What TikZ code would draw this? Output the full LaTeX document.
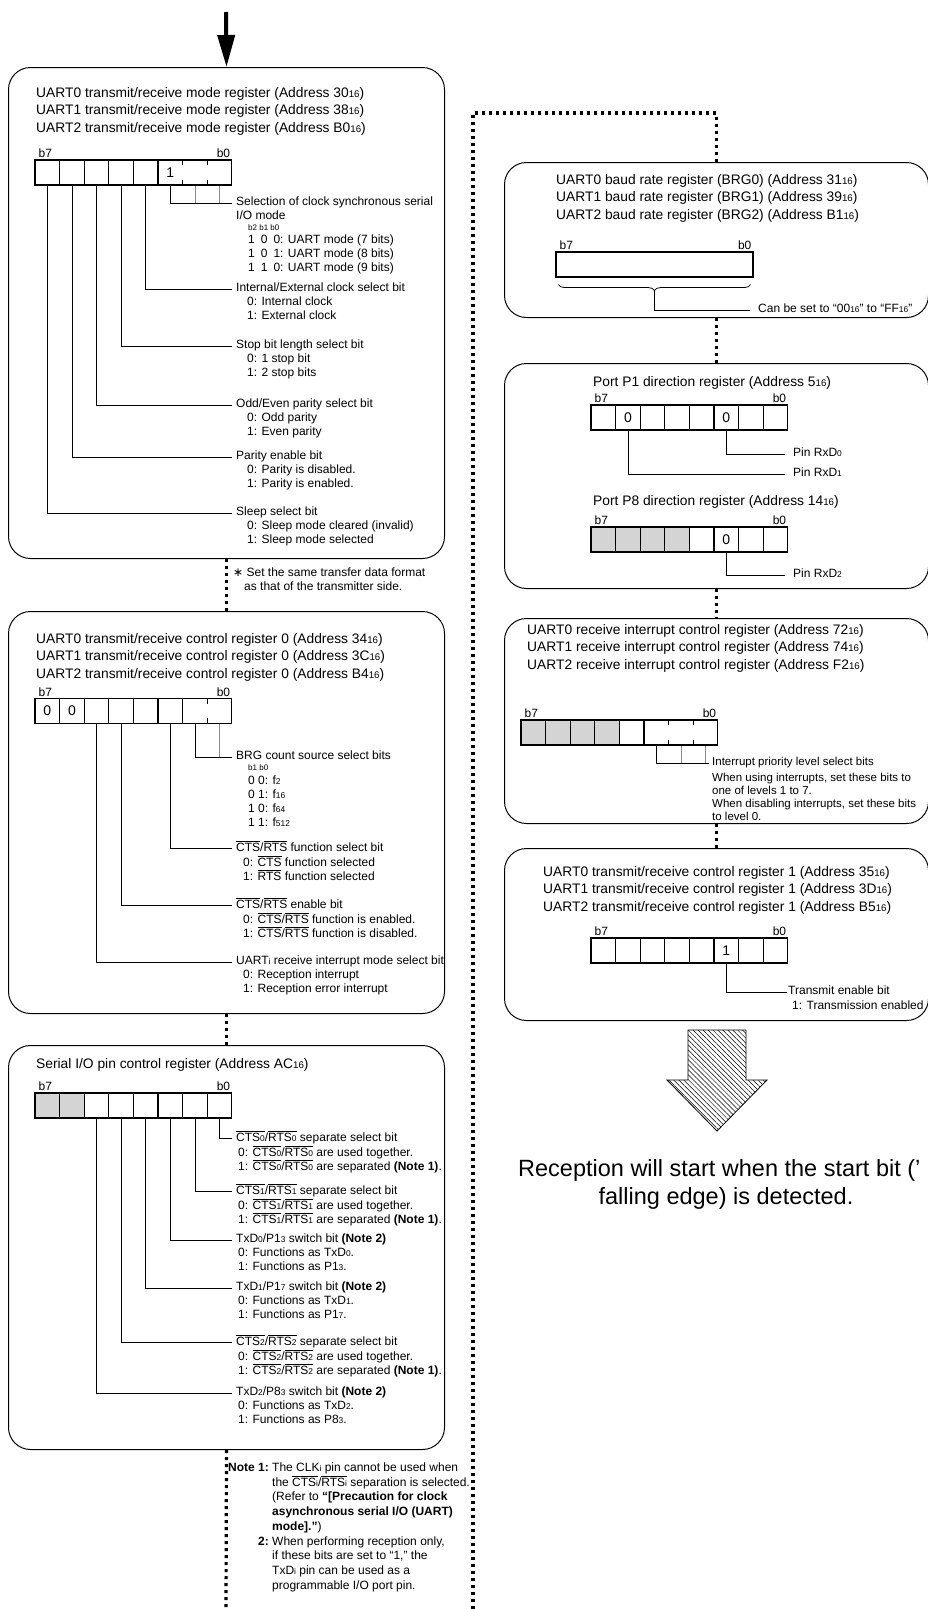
\documentclass[tikz,border=0pt]{standalone}
\usepackage{fontspec}
\setmainfont{Liberation Sans}
\newfontfamily\symfont{DejaVu Sans}
\usepackage{graphicx}
\usetikzlibrary{positioning,arrows.meta,decorations.pathreplacing,patterns.meta}

\colorlet{shade}{black!17}
\newcommand\ix[1]{\scalebox{0.7}{#1}}
\newcommand\ovl[1]{$\overline{\mbox{#1}}$}
\newcommand\ttlfont{\fontsize{13.8}{17.5}\selectfont}
\newcommand\lblfont{\fontsize{12}{14}\selectfont}
\newcommand\tinyfont{\fontsize{8}{9}\selectfont}

% one 8-bit register: name, left edge, centre y, grey cells, cell texts b7..b0
\newcommand\bitrow[5]{%
  \foreach \val [count=\idx] in {#5}{%
    \pgfmathtruncatemacro\bitno{8-\idx}%
    \ifnum\idx>#4\relax
      \node[cell] (#1b\bitno) at ({#2+(\idx-0.5)*24.6},#3) {\val};%
    \else
      \node[cell, fill=shade] (#1b\bitno) at ({#2+(\idx-0.5)*24.6},#3) {\val};%
    \fi
  }
  \node[bitno, anchor=base west] (#1hi) at ([xshift=4pt,yshift=1.5pt]#1b7.north west) {b7};
  \node[bitno, anchor=base east] (#1lo) at ([xshift=-2pt,yshift=1.5pt]#1b0.north east) {b0};
}
% broken divider inside a bit field
\newcommand\cellgap[1]{\draw[white, line width=2pt] ([yshift=-6pt]#1.north west) -- ([yshift=6pt]#1.south west);}

\begin{document}
\begin{tikzpicture}[x=1pt, y=-1pt,
    panel/.style={draw, line width=1pt, rounded corners=22pt, anchor=north west, inner sep=0pt},
    cell/.style={draw, line width=1.1pt, minimum width=24.6pt, minimum height=25pt, inner sep=0pt, font=\fontsize{14}{14}\selectfont},
    bitno/.style={inner sep=0pt, font=\lblfont},
    ttl/.style={anchor=west, inner sep=0pt, align=left, font=\ttlfont},
    lbl/.style={anchor=west, inner xsep=4pt, inner ysep=0pt, font=\lblfont, execute at begin node=\strut},
    opt/.style={inner sep=0pt, align=left, font=\lblfont, execute at begin node=\strut},
    small/.style={font=\fontsize{11.5}{13}\selectfont},
    big/.style={inner sep=0pt, font=\fontsize{23.5}{28}\selectfont},
    lead/.style={line width=0.8pt},
    leadg/.style={line width=0.8pt, black!45},
    flow/.style={line width=3.2pt, dash pattern=on 3pt off 4pt},
    feed/.style={line width=4pt, -{Triangle[length=32pt, width=17pt]}}]
  \useasboundingbox (0,0) rectangle (928,1609);
  \clip (0,0) rectangle (928,1609);

  % panels
  \node[panel, minimum width=436pt, minimum height=491pt] (mode) at (8,67) {};
  \node[panel, minimum width=436pt, minimum height=402pt] (ctl0) at (8,611) {};
  \node[panel, minimum width=436pt, minimum height=404pt] (sio) at (8,1045) {};
  \node[panel, minimum width=424pt, minimum height=155pt] (baud) at (504,162) {};
  \node[panel, minimum width=424pt, minimum height=225pt] (port) at (504,363) {};
  \node[panel, minimum width=424pt, minimum height=205pt] (ric) at (504,618) {};
  \node[panel, minimum width=424pt, minimum height=172pt] (ctl1) at (504,848) {};

  % flow
  \coordinate (entry) at (226,12);
  \draw[feed] (entry) -- (mode.north);
  \draw[flow] (mode.south) -- (ctl0.north);
  \draw[flow] (ctl0.south) -- (sio.north);
  \coordinate (lend) at (226,1609);
  \draw[flow] (sio.south) -- (lend);
  \coordinate (rend) at (473,1609);
  \coordinate (rturn) at (473,113);
  \draw[flow] (rend) -- (rturn) -| (baud.north);
  \draw[flow] (baud.south) -- (port.north);
  \draw[flow] (port.south) -- (ric.north);
  \draw[flow] (ric.south) -- (ctl1.north);

  % transmit/receive mode register
  \node[ttl] (modettl) at (36,111) {UART0 transmit/receive mode register (Address 30\ix{16})\\UART1 transmit/receive mode register (Address 38\ix{16})\\UART2 transmit/receive mode register (Address B0\ix{16})};
  \bitrow{m}{35}{172.5}{0}{{},{},{},{},{},1,{},{}}
  \cellgap{mb1}\cellgap{mb0}
  \node[lbl] (msel) at (232,203) {Selection of clock synchronous serial};
  \draw[lead] (mb2.south) |- (msel.west);
  \draw[leadg] (mb1.south) -- (mb1.south |- msel.west);
  \draw[leadg] (mb0.south) -- (mb0.south |- msel.west);
  \node[opt, below right=0pt and 4pt of msel.south west] (mselo) {I/O mode\\[-3pt]\hspace*{12pt}{\tinyfont b2 b1 b0}\\[-1pt]\hspace*{12pt}1\hspace{6pt}0\hspace{6pt}0: UART mode (7 bits)\\\hspace*{12pt}1\hspace{6pt}0\hspace{6pt}1: UART mode (8 bits)\\\hspace*{12pt}1\hspace{6pt}1\hspace{6pt}0: UART mode (9 bits)};
  \node[lbl] (mint) at (232,289) {Internal/External clock select bit};
  \draw[lead] (mb3.south) |- (mint.west);
  \node[opt, below right=0pt and 15pt of mint.south west] (minto) {0: Internal clock\\1: External clock};
  \node[lbl] (mstop) at (232,346) {Stop bit length select bit};
  \draw[lead] (mb4.south) |- (mstop.west);
  \node[opt, below right=0pt and 15pt of mstop.south west] (mstopo) {0: 1 stop bit\\1: 2 stop bits};
  \node[lbl] (mpar) at (232,405) {Odd/Even parity select bit};
  \draw[lead] (mb5.south) |- (mpar.west);
  \node[opt, below right=0pt and 15pt of mpar.south west] (mparo) {0: Odd parity\\1: Even parity};
  \node[lbl] (mpen) at (232,457) {Parity enable bit};
  \draw[lead] (mb6.south) |- (mpen.west);
  \node[opt, below right=0pt and 15pt of mpen.south west] (mpeno) {0: Parity is disabled.\\1: Parity is enabled.};
  \node[lbl] (mslp) at (232,513) {Sleep select bit};
  \draw[lead] (mb7.south) |- (mslp.west);
  \node[opt, below right=0pt and 15pt of mslp.south west] (mslpo) {0: Sleep mode cleared (invalid)\\1: Sleep mode selected};
  \node[opt, anchor=west] (fmtnote) at (233,581) {{\symfont ∗} Set the same transfer data format\\\hspace*{11pt}as that of the transmitter side.};

  % transmit/receive control register 0
  \node[ttl] (ctl0ttl) at (36,657) {UART0 transmit/receive control register 0 (Address 34\ix{16})\\UART1 transmit/receive control register 0 (Address 3C\ix{16})\\UART2 transmit/receive control register 0 (Address B4\ix{16})};
  \bitrow{n}{35}{711}{0}{0,0,{},{},{},{},{},{}}
  \cellgap{nb0}
  \node[lbl] (nbrg) at (232,757) {BRG count source select bits};
  \draw[lead] (nb1.south) |- (nbrg.west);
  \draw[leadg] (nb0.south) -- (nb0.south |- nbrg.west);
  \node[opt, below right=0pt and 16pt of nbrg.south west] (nbrgo) {{\tinyfont b1 b0}\\0 0: f\ix{2}\\0 1: f\ix{16}\\1 0: f\ix{64}\\1 1: f\ix{512}};
  \node[lbl] (ncts) at (232,848) {\ovl{CTS}/\ovl{RTS} function select bit};
  \draw[lead] (nb2.south) |- (ncts.west);
  \node[opt, below right=0pt and 11pt of ncts.south west] (nctso) {0: \ovl{CTS} function selected\\1: \ovl{RTS} function selected};
  \node[lbl] (nen) at (232,905) {\ovl{CTS}/\ovl{RTS} enable bit};
  \draw[lead] (nb4.south) |- (nen.west);
  \node[opt, below right=0pt and 11pt of nen.south west] (neno) {0: \ovl{CTS}/\ovl{RTS} function is enabled.\\1: \ovl{CTS}/\ovl{RTS} function is disabled.};
  \node[lbl] (nrx) at (232,962) {UART\ix{i} receive interrupt mode select bit};
  \draw[lead] (nb5.south) |- (nrx.west);
  \node[opt, below right=0pt and 11pt of nrx.south west] (nrxo) {0: Reception interrupt\\1: Reception error interrupt};

  % serial I/O pin control register
  \node[ttl] (siottl) at (36,1065) {Serial I/O pin control register (Address AC\ix{16})};
  \bitrow{s}{35}{1105.5}{2}{{},{},{},{},{},{},{},{}}
  \node[lbl] (s0) at (232,1138) {\ovl{CTS\ix{0}}/\ovl{RTS\ix{0}} separate select bit};
  \draw[lead] (sb0.south) |- (s0.west);
  \node[opt, below right=0pt and 6pt of s0.south west] (s0o) {0: \ovl{CTS\ix{0}}/\ovl{RTS\ix{0}} are used together.\\1: \ovl{CTS\ix{0}}/\ovl{RTS\ix{0}} are separated \textbf{(Note 1)}.};
  \node[lbl] (s1) at (232,1191) {\ovl{CTS\ix{1}}/\ovl{RTS\ix{1}} separate select bit};
  \draw[lead] (sb1.south) |- (s1.west);
  \node[opt, below right=0pt and 6pt of s1.south west] (s1o) {0: \ovl{CTS\ix{1}}/\ovl{RTS\ix{1}} are used together.\\1: \ovl{CTS\ix{1}}/\ovl{RTS\ix{1}} are separated \textbf{(Note 1)}.};
  \node[lbl] (s2) at (232,1240) {TxD\ix{0}/P1\ix{3} switch bit \textbf{(Note 2)}};
  \draw[lead] (sb2.south) |- (s2.west);
  \node[opt, below right=0pt and 6pt of s2.south west] (s2o) {0: Functions as TxD\ix{0}.\\1: Functions as P1\ix{3}.};
  \node[lbl] (s3) at (232,1288) {TxD\ix{1}/P1\ix{7} switch bit \textbf{(Note 2)}};
  \draw[lead] (sb3.south) |- (s3.west);
  \node[opt, below right=0pt and 6pt of s3.south west] (s3o) {0: Functions as TxD\ix{1}.\\1: Functions as P1\ix{7}.};
  \node[lbl] (s4) at (232,1342) {\ovl{CTS\ix{2}}/\ovl{RTS\ix{2}} separate select bit};
  \draw[lead] (sb4.south) |- (s4.west);
  \node[opt, below right=0pt and 6pt of s4.south west] (s4o) {0: \ovl{CTS\ix{2}}/\ovl{RTS\ix{2}} are used together.\\1: \ovl{CTS\ix{2}}/\ovl{RTS\ix{2}} are separated \textbf{(Note 1)}.};
  \node[lbl] (s5) at (232,1393) {TxD\ix{2}/P8\ix{3} switch bit \textbf{(Note 2)}};
  \draw[lead] (sb5.south) |- (s5.west);
  \node[opt, below right=0pt and 6pt of s5.south west] (s5o) {0: Functions as TxD\ix{2}.\\1: Functions as P8\ix{3}.};
  \node[anchor=north west, inner sep=0pt, font=\fontsize{12}{14.7}\selectfont] (notes) at (228,1461) {%
    \begin{tabular}{@{}r@{\ }l@{}}
    \textbf{Note 1:} & The CLK\ix{i} pin cannot be used when\\
     & the \ovl{CTS\ix{i}}/\ovl{RTS\ix{i}} separation is selected.\\
     & (Refer to \textbf{“[Precaution for clock}\\
     & \textbf{asynchronous serial I/O (UART)}\\
     & \textbf{mode].”})\\
    \textbf{2:} & When performing reception only,\\
     & if these bits are set to “1,” the\\
     & TxD\ix{i} pin can be used as a\\
     & programmable I/O port pin.
    \end{tabular}};

  % baud rate register
  \node[ttl] (baudttl) at (556,198) {UART0 baud rate register (BRG0) (Address 31\ix{16})\\UART1 baud rate register (BRG1) (Address 39\ix{16})\\UART2 baud rate register (BRG2) (Address B1\ix{16})};
  \node[cell, minimum width=197pt] (brg) at (654.5,264.5) {};
  \node[bitno, anchor=base west] (brghi) at ([xshift=4pt,yshift=1.5pt]brg.north west) {b7};
  \node[bitno, anchor=base east] (brglo) at ([xshift=-2pt,yshift=1.5pt]brg.north east) {b0};
  \draw[lead, decorate, decoration={brace, mirror, amplitude=6pt}] ([xshift=3pt,yshift=-7pt]brg.south west) -- ([xshift=-3pt,yshift=-7pt]brg.south east);
  \coordinate (brgtip) at ([yshift=-13pt]brg.south);
  \node[lbl, inner xsep=8pt] (brgset) at (750,310) {Can be set to “00\ix{16}” to “FF\ix{16}”};
  \draw[lead] (brgtip) |- (brgset.west);

  % port direction registers
  \node[ttl] (p1ttl) at (593,383) {Port P1 direction register (Address 5\ix{16})};
  \bitrow{p}{591}{417.5}{0}{{},0,{},{},{},0,{},{}}
  \node[lbl, inner xsep=8pt] (rxd0) at (785,454) {Pin RxD\ix{0}};
  \node[lbl, inner xsep=8pt] (rxd1) at (785,474) {Pin RxD\ix{1}};
  \draw[lead] (pb2.south) |- (rxd0.west);
  \draw[lead] (pb6.south) |- (rxd1.west);
  \node[ttl] (p8ttl) at (593,502) {Port P8 direction register (Address 14\ix{16})};
  \bitrow{q}{591}{539.5}{4}{{},{},{},{},{},0,{},{}}
  \node[lbl, inner xsep=8pt] (rxd2) at (785,575) {Pin RxD\ix{2}};
  \draw[lead] (qb2.south) |- (rxd2.west);

  % receive interrupt control register
  \node[ttl] (ricttl) at (527,648) {UART0 receive interrupt control register (Address 72\ix{16})\\UART1 receive interrupt control register (Address 74\ix{16})\\UART2 receive interrupt control register (Address F2\ix{16})};
  \bitrow{r}{521}{732.5}{4}{{},{},{},{},{},{},{},{}}
  \cellgap{rb1}\cellgap{rb0}
  \node[lbl, small, inner xsep=3pt] (rprio) at (709,763) {Interrupt priority level select bits};
  \draw[lead] (rb2.south) |- (rprio.west);
  \draw[leadg] (rb1.south) -- (rb1.south |- rprio.west);
  \draw[leadg] (rb0.south) -- (rb0.south |- rprio.west);
  \node[opt, small, below right=3pt and 3pt of rprio.south west] (rprioo) {When using interrupts, set these bits to\\one of levels 1 to 7.\\When disabling interrupts, set these bits\\to level 0.};

  % transmit/receive control register 1
  \node[ttl] (ctl1ttl) at (543,890) {UART0 transmit/receive control register 1 (Address 35\ix{16})\\UART1 transmit/receive control register 1 (Address 3D\ix{16})\\UART2 transmit/receive control register 1 (Address B5\ix{16})};
  \bitrow{t}{591}{950.5}{0}{{},{},{},{},{},1,{},{}}
  \node[lbl, inner xsep=1pt] (txen) at (787,992) {Transmit enable bit};
  \draw[lead] (tb2.south) |- (txen.west);
  \node[opt, below right=0pt and 5pt of txen.south west] (txeno) {1: Transmission enabled};

  % start of reception
  \draw[line width=0.8pt, pattern={Lines[angle=-45, distance=3.5pt, line width=0.5pt]}] (688,1030) -- (746,1030) -- (746,1080) -- (767,1080) -- (717,1131) -- (667,1080) -- (688,1080) -- cycle;
  \node[big, anchor=west] (recv) at (518,1170) {Reception will start when the start bit (’};
  \node[big] (recv2) at (726,1198) {falling edge) is detected.};
\end{tikzpicture}
\end{document}
